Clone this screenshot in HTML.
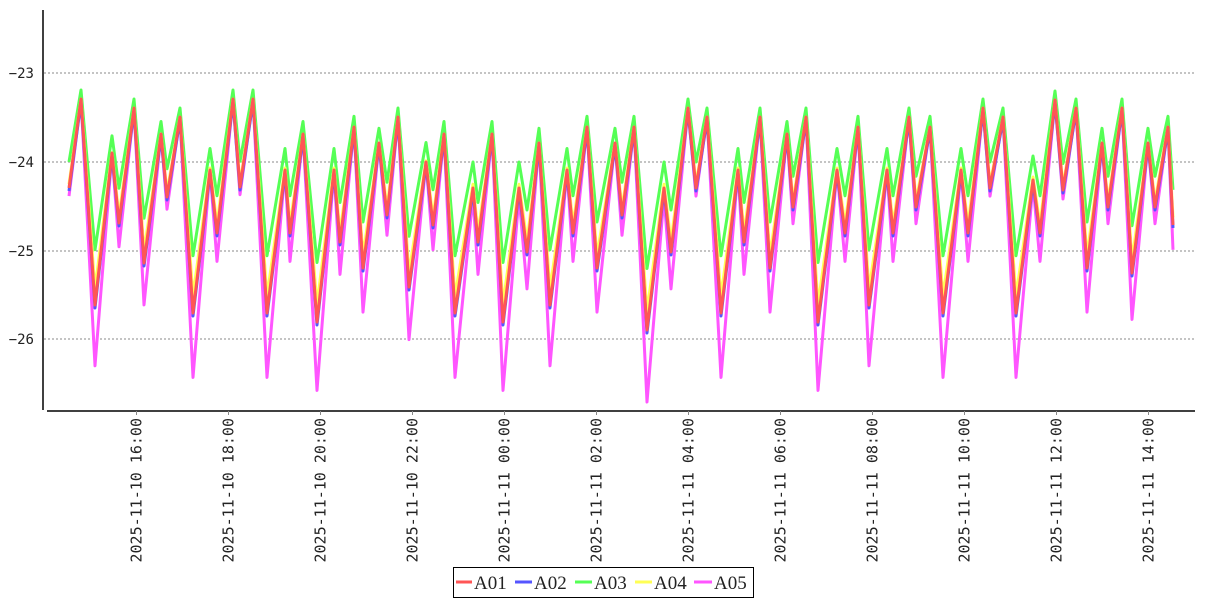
<!DOCTYPE html>
<html><head><meta charset="utf-8"><style>
body{margin:0;background:#fff;}
svg{display:block;font-family:"DejaVu Sans Mono","Liberation Mono",monospace;}
</style></head><body>
<svg id="s" width="1207" height="600" xmlns="http://www.w3.org/2000/svg">
<g stroke="#888" stroke-width="1" stroke-dasharray="2,2">
<line x1="44" y1="73" x2="1195" y2="73"/><line x1="44" y1="162" x2="1195" y2="162"/>
<line x1="44" y1="251" x2="1195" y2="251"/><line x1="44" y1="339" x2="1195" y2="339"/>
</g>
<g font-size="14" fill="#222" text-anchor="end">
<text x="34" y="78">−23</text><text x="34" y="167">−24</text><text x="34" y="256">−25</text><text x="34" y="344">−26</text>
</g>
<g id="lines" fill="none" stroke-width="3" stroke-linejoin="round"></g>
<line x1="43" y1="10" x2="43" y2="410" stroke="#000" stroke-width="1.5"/>
<line x1="47" y1="411" x2="1195" y2="411" stroke="#000" stroke-width="1.5"/>
<g id="xt" font-size="15" fill="#222"></g>
<rect x="453.5" y="567.5" width="300" height="30" fill="#fff" stroke="#000"/>
<g font-family="'Liberation Serif',serif" font-size="19" fill="#222">
<line x1="456" y1="582" x2="472" y2="582" stroke="#f55" stroke-width="3"/><text x="474" y="589">A01</text>
<line x1="515" y1="582" x2="532" y2="582" stroke="#55f" stroke-width="3"/><text x="534" y="589">A02</text>
<line x1="575" y1="582" x2="592" y2="582" stroke="#5f5" stroke-width="3"/><text x="594" y="589">A03</text>
<line x1="635" y1="582" x2="652" y2="582" stroke="#ff5" stroke-width="3"/><text x="654" y="589">A04</text>
<line x1="694" y1="582" x2="712" y2="582" stroke="#f5f" stroke-width="3"/><text x="714" y="589">A05</text>
</g>
</svg>
<script>
var r=[[69,188],[81,99],[95,305],[112,153],[119,223],[134,108],[144,263],[161,134],[167,197],[180,117],[193,313],[210,170],[217,233],[233,99],[240,187],[253,99],[267,313],[285,170],[290,233],[303,134],[317,322],[334,170],[340,242],[354,127],[363,268],[379,143],[387,215],[398,117],[409,287],[426,162],[433,225],[444,134],[455,313],[473,188],[478,242],[492,134],[503,322],[519,188],[527,252],[539,143],[550,305],[567,170],[573,233],[587,127],[597,268],[615,143],[622,215],[634,127],[647,330],[664,188],[671,252],[688,108],[696,188],[707,117],[721,313],[738,170],[744,242],[760,117],[770,268],[787,134],[793,207],[806,117],[818,322],[837,170],[845,233],[858,127],[869,305],[887,170],[893,233],[909,117],[916,207],[930,127],[943,313],[961,170],[968,233],[983,108],[990,188],[1003,117],[1016,313],[1033,180],[1040,233],[1055,100],[1063,190],[1076,108],[1087,268],[1102,143],[1108,207],[1122,108],[1132,273],[1148,143],[1155,207],[1168,127],[1173,225]];
function mk(f){return r.map(function(p){return p[0]+","+f(p[1]).toFixed(1)}).join(" ");}
var series=[
["#f5f",function(y){return y>170?y+0.45*(y-170):y;}],
["#5f5",function(y){return y>120?y-9-0.25*(y-120):y-9;}],
["#ff5",function(y){return y>150?y-0.1*(y-150):y;}],
["#55f",function(y){return y+3;}],
["#f55",function(y){return y;}]];
var g=document.getElementById("lines"),h="";
series.forEach(function(s){h+='<polyline stroke="'+s[0]+'" points="'+mk(s[1])+'"/>';});
g.innerHTML=h;
var lab=["2025-11-10 16:00","2025-11-10 18:00","2025-11-10 20:00","2025-11-10 22:00","2025-11-11 00:00","2025-11-11 02:00","2025-11-11 04:00","2025-11-11 06:00","2025-11-11 08:00","2025-11-11 10:00","2025-11-11 12:00","2025-11-11 14:00"];
var t="";
lab.forEach(function(l,i){var x=136.5+i*92;
t+='<line x1="'+x+'" y1="411" x2="'+x+'" y2="415" stroke="#888"/>';
t+='<text transform="translate('+(x+5)+',418) rotate(-90)" text-anchor="end">'+l+'</text>';});
document.getElementById("xt").innerHTML=t;
</script>
</body></html>
